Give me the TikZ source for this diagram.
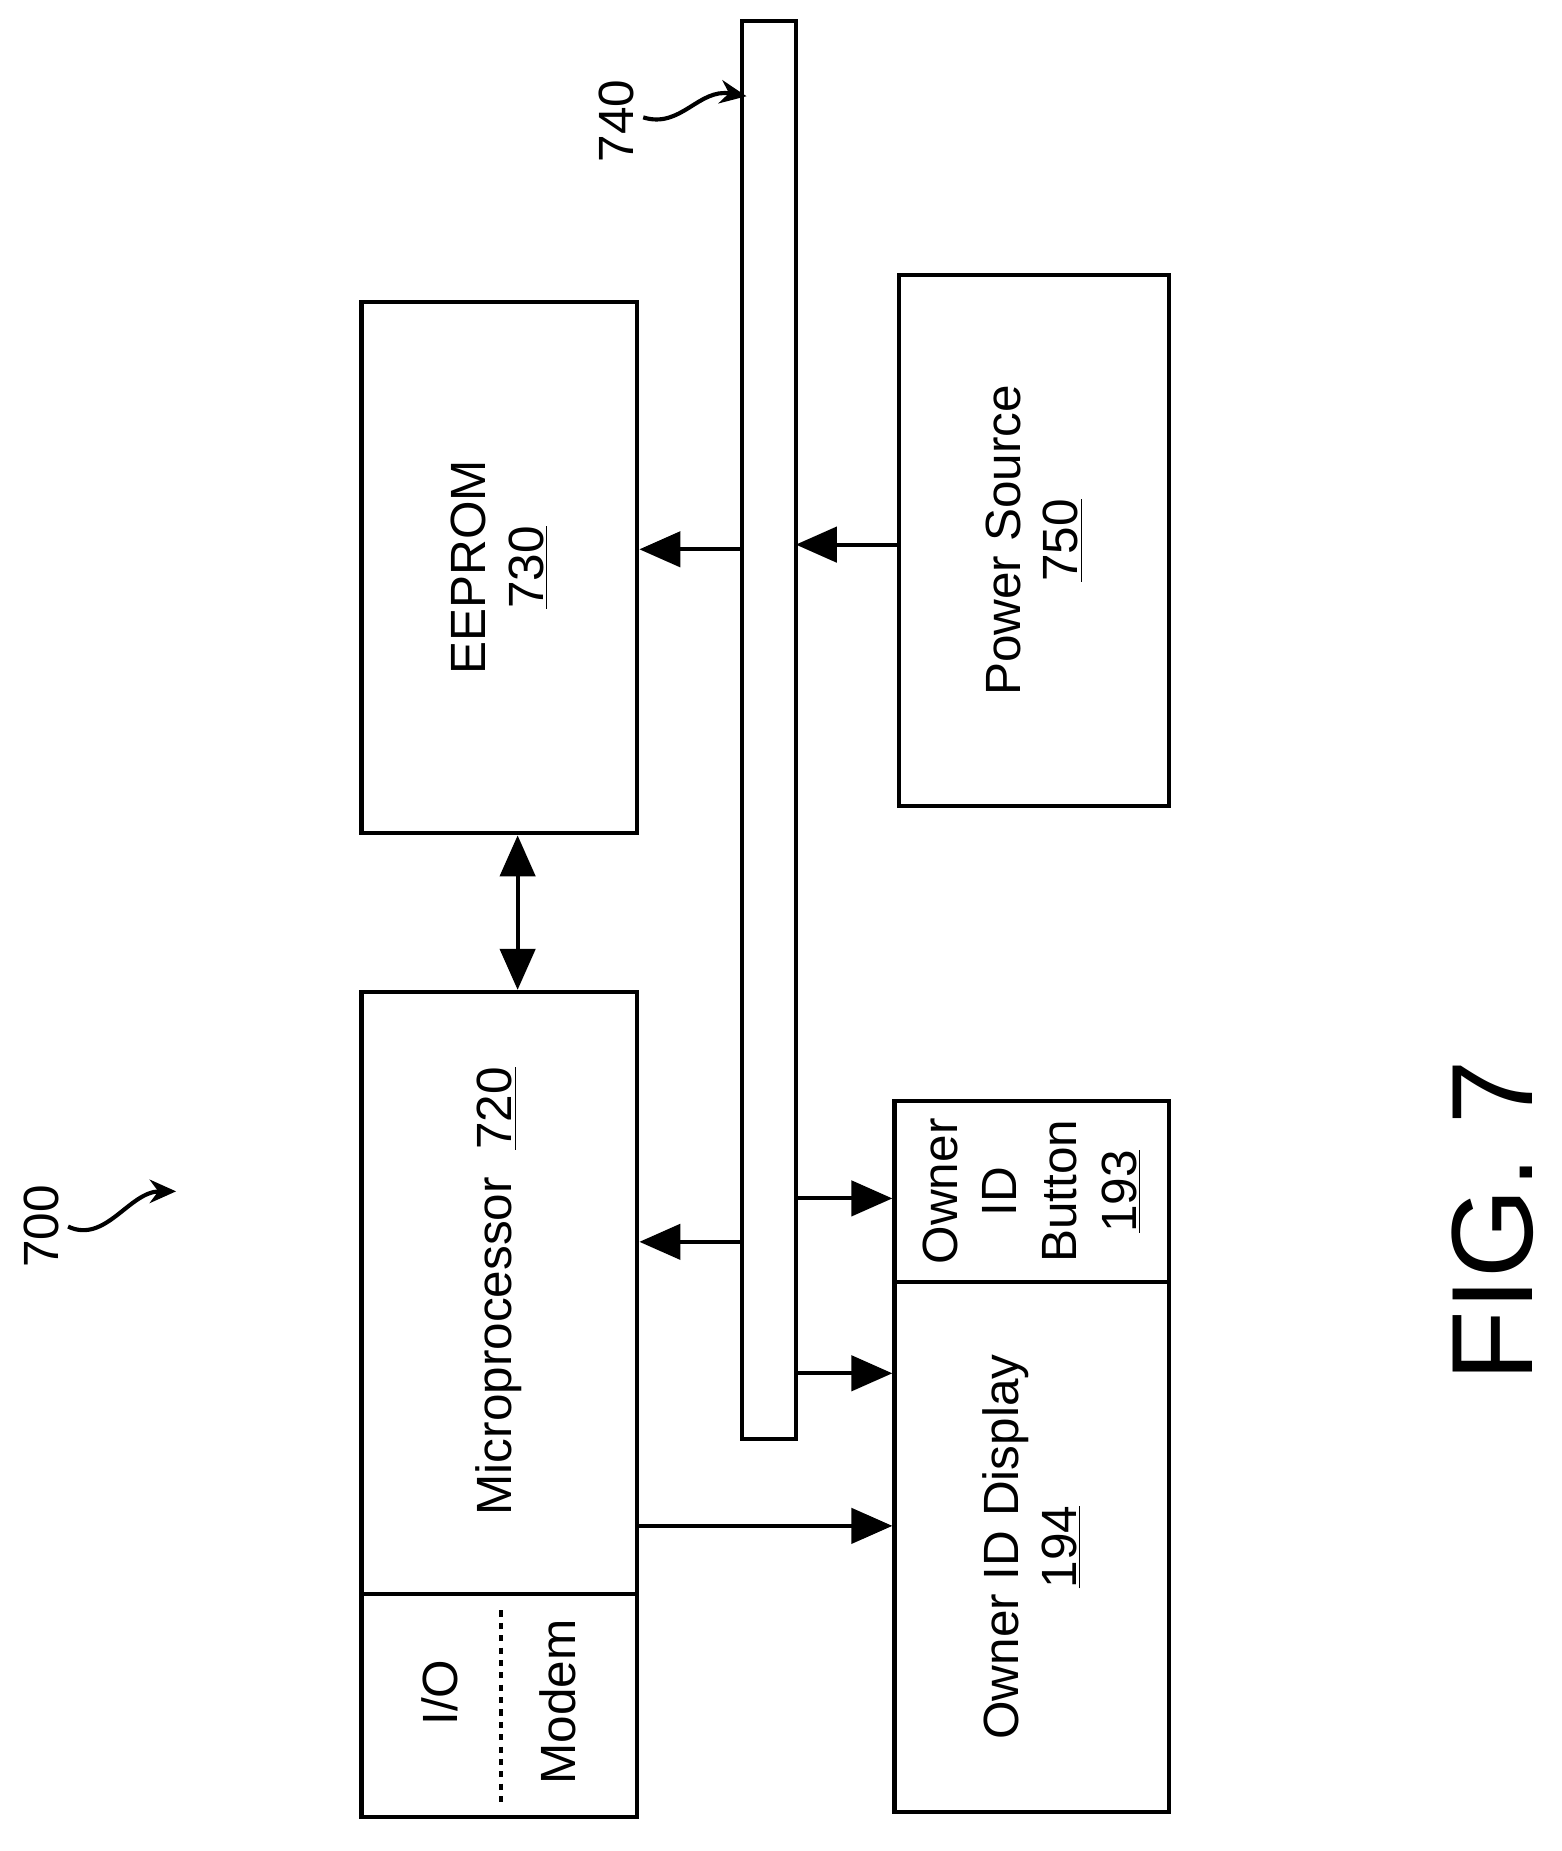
\documentclass[tikz,border=0pt]{standalone}
\usepackage{fontspec}
\setmainfont{Liberation Sans}
\usetikzlibrary{arrows.meta, positioning}

\begin{document}
\begin{tikzpicture}[
    x=0.02cm, y=-0.02cm,
    block/.style={rectangle, draw, line width=2pt, inner sep=0pt},
    lbl/.style={font=\fontsize{24}{28}\selectfont, rotate=90, align=center},
    arrow/.style={-{Triangle[length=0.7cm, width=0.6cm]}, line width=2pt},
    darrow/.style={{Triangle[length=0.7cm, width=0.6cm]}-{Triangle[length=0.7cm, width=0.6cm]}, line width=2pt},
    callout/.style={-{Stealth[length=0.45cm, width=0.4cm]}, line width=2pt}
]

% Background
\fill[white] (0,0) rectangle (1330,1577);

% Bus
\node[block, minimum width=0.92cm, minimum height=24.16cm] (bus) at (655,622) {};

% EEPROM
\node[block, minimum width=4.7cm, minimum height=9.06cm] (eeprom) at (425.5,483.5) {};
\node[lbl] at (eeprom) {EEPROM\\\underline{730}};

% Power source
\node[block, minimum width=4.6cm, minimum height=9.06cm] (power) at (881,460.5) {};
\node[lbl] at (power) {Power Source\\\underline{750}};

% Microprocessor with I/O section
\node[block, minimum width=4.7cm, minimum height=14.06cm] (micro) at (425.5,1196.5) {};
\draw[line width=2pt] (308,1358) -- (543,1358);
\node[lbl] at (425,1100) {Microprocessor\ \ \underline{720}};
\node[lbl] (io) at (375,1442) {I/O};
\node[lbl] (modem) at (475,1450) {Modem};
\draw[dashed, line width=1.8pt] (427,1372) -- (427,1535);

% Owner ID button and display
\node[block, minimum width=4.68cm, minimum height=3.08cm] (button) at (879,1015) {};
\node[lbl, font=\fontsize{24}{29}\selectfont] at (button) {Owner\\ID\\Button\\\underline{193}};
\node[block, minimum width=4.68cm, minimum height=9.04cm] (display) at (879,1318) {};
\node[lbl] at (display) {Owner ID Display\\\underline{194}};

% Tap points
\coordinate (bEe) at (632,468);
\coordinate (bPw) at (678,464);
\coordinate (bMi) at (632,1058);
\coordinate (bBt) at (678,1021);
\coordinate (bDi) at (678,1170);

% Connections
\draw[arrow] (bEe) -- (bEe -| eeprom.east);
\draw[arrow] (bPw -| power.west) -- (bPw);
\draw[darrow] (eeprom.south -| 441,0) -- (micro.north -| 441,0);
\draw[arrow] (bMi) -- (bMi -| micro.east);
\draw[arrow] (bBt) -- (bBt -| button.west);
\draw[arrow] (bDi) -- (bDi -| display.west);
\draw[arrow] (micro.east |- 0,1300) -- (display.west |- 0,1300);

% Reference numerals
\node[lbl] (n740) at (525,103) {740};
\coordinate (t740) at (636,82);
\draw[callout] (548,100) .. controls (580,110) and (595,75) .. (t740);
\node[lbl] (n700) at (35,1045) {700};
\coordinate (t700) at (150,1015);
\draw[callout] (58,1045) .. controls (90,1060) and (110,1015) .. (t700);

% Figure label
\node[lbl, font=\fontsize{56}{60}\selectfont] (fig) at (1272,1040) {FIG. 7};

\end{tikzpicture}
\end{document}
